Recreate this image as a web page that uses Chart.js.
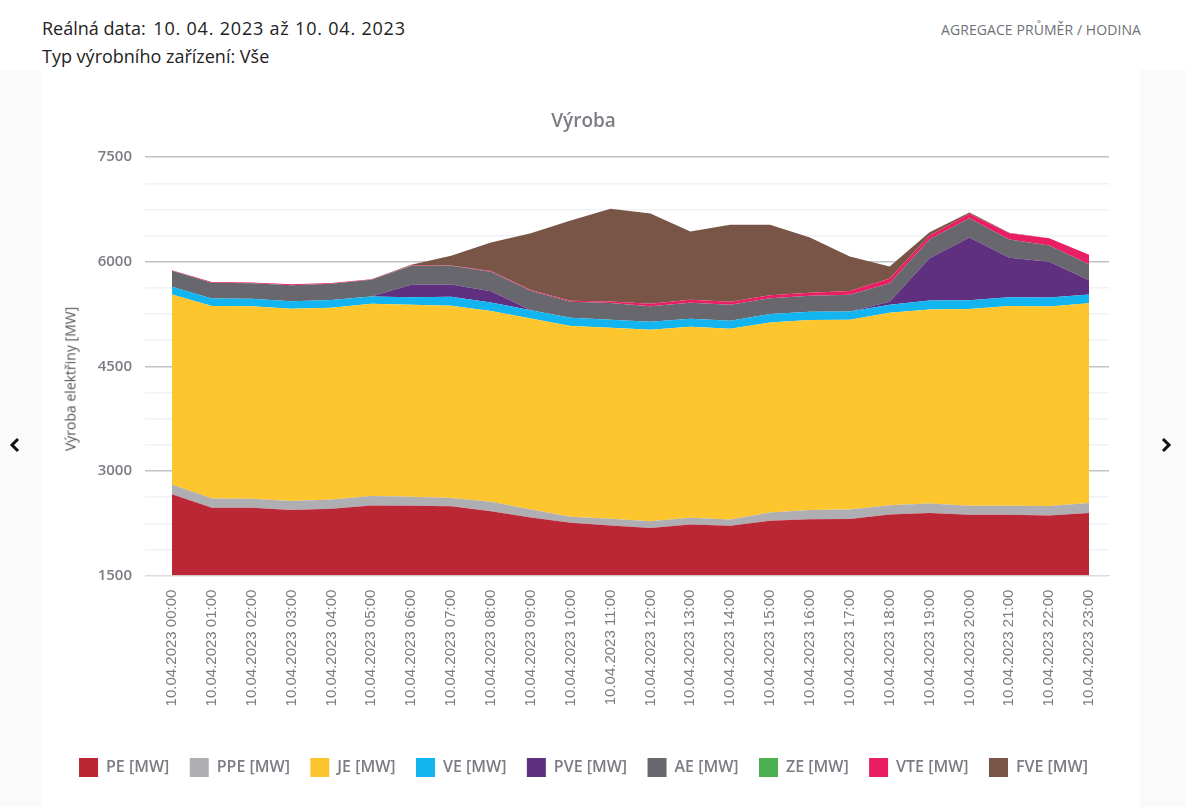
<!DOCTYPE html>
<html lang="cs">
<head>
<meta charset="utf-8">
<title>Výroba</title>
<script src="https://cdn.jsdelivr.net/npm/chart.js@4"></script>
<style>
  html, body { margin: 0; padding: 0; background: #fff; overflow: hidden; }
  body { width: 1186px; height: 807px; position: relative; font-family: "Open Sans", sans-serif; }
  .info { position: absolute; left: 42px; color: #222; font-size: 18px; line-height: 28px; white-space: nowrap; }
  .info span { letter-spacing: 0.8px; margin-left: 3px; }
  .agg { position: absolute; right: 45px; top: 20px; color: #6f6f76; font-size: 14px; line-height: 20px; letter-spacing: 0.08px; }
  .side { position: absolute; top: 70px; height: 737px; background: #fafafa; }
  .arrow { position: absolute; top: 437px; }
  #wrap { position: absolute; left: 42px; top: 70px; width: 1098px; height: 737px; }
  #ytitle { position: absolute; left: 70px; top: 379px; color: #55555c; font-size: 14px; white-space: nowrap; transform: translate(-50%, -50%) rotate(-90deg); }
</style>
</head>
<body>
<div class="info" style="top:14px">Reálná data: <span>10. 04. 2023 až 10. 04. 2023</span></div>
<div class="info" style="top:42px">Typ výrobního zařízení: Vše</div>
<div class="agg">AGREGACE PRŮMĚR / HODINA</div>
<div class="side" style="left:0;width:42px"></div>
<div class="side" style="left:1140px;width:46px"></div>
<svg class="arrow" style="left:9px" width="12" height="16" viewBox="0 0 12 16"><path d="M9 2 L3 8 L9 14" fill="none" stroke="#111" stroke-width="3"/></svg>
<svg class="arrow" style="left:1160px" width="12" height="16" viewBox="0 0 12 16"><path d="M3 2 L9 8 L3 14" fill="none" stroke="#111" stroke-width="3"/></svg>
<div id="wrap"><canvas id="vyroba"></canvas></div>
<div id="ytitle">Výroba elektřiny [MW]</div>
<script>
const hours = [
  '10.04.2023 00:00', '10.04.2023 01:00', '10.04.2023 02:00', '10.04.2023 03:00',
  '10.04.2023 04:00', '10.04.2023 05:00', '10.04.2023 06:00', '10.04.2023 07:00',
  '10.04.2023 08:00', '10.04.2023 09:00', '10.04.2023 10:00', '10.04.2023 11:00',
  '10.04.2023 12:00', '10.04.2023 13:00', '10.04.2023 14:00', '10.04.2023 15:00',
  '10.04.2023 16:00', '10.04.2023 17:00', '10.04.2023 18:00', '10.04.2023 19:00',
  '10.04.2023 20:00', '10.04.2023 21:00', '10.04.2023 22:00', '10.04.2023 23:00',
];
const pe  = [2667, 2471, 2471, 2442, 2457, 2505, 2500, 2495, 2424, 2333, 2256, 2219, 2184, 2233, 2213, 2285, 2309, 2313, 2376, 2399, 2371, 2371, 2362, 2399];
const ppe = [139, 135, 132, 129, 135, 137, 129, 119, 133, 115, 86, 97, 96, 95, 92, 120, 133, 135, 133, 135, 129, 129, 137, 143];
const je  = [2725, 2758, 2757, 2755, 2749, 2755, 2755, 2755, 2735, 2739, 2735, 2738, 2745, 2741, 2735, 2725, 2721, 2721, 2760, 2782, 2821, 2864, 2860, 2864];
const ve  = [110, 110, 110, 109, 109, 105, 105, 129, 125, 119, 120, 115, 115, 115, 115, 119, 120, 119, 115, 129, 125, 125, 129, 125];
const pve = [0, 0, 0, 0, 0, 0, 182, 176, 158, 0, 0, 0, 0, 0, 0, 0, 0, 0, 43, 606, 902, 569, 511, 205];
const ae  = [229, 225, 223, 229, 235, 239, 266, 268, 282, 278, 229, 238, 223, 229, 229, 229, 229, 239, 266, 272, 276, 262, 233, 229];
const ze  = [0, 0, 0, 0, 0, 0, 0, 0, 0, 0, 0, 0, 0, 0, 0, 0, 0, 0, 0, 0, 0, 0, 0, 0];
const vte = [9, 9, 10, 14, 9, 9, 10, 4, 9, 9, 14, 24, 34, 43, 43, 43, 43, 52, 67, 53, 63, 90, 105, 135];
const fve = [0, 0, 0, 0, 0, 0, 10, 139, 411, 816, 1150, 1327, 1293, 978, 1103, 1008, 792, 497, 172, 47, 19, 6, 0, 0];

const SERIES = [
  ['PE [MW]', pe, '#bc2736'],
  ['PPE [MW]', ppe, '#aeaeb3'],
  ['JE [MW]', je, '#fdc62e'],
  ['VE [MW]', ve, '#12b5ef'],
  ['PVE [MW]', pve, '#5f2f80'],
  ['AE [MW]', ae, '#68676d'],
  ['ZE [MW]', ze, '#4caf50'],
  ['VTE [MW]', vte, '#ea1f63'],
  ['FVE [MW]', fve, '#795548'],
];
const GRAY = '#7c7c84';
const FONT = '"Open Sans", sans-serif';
const isMajor = (v) => v % 1500 === 0;

function gridColor(ctx) {
  const v = ctx.tick.value;
  if (v === 1500) return '#dcdcdf';
  return isMajor(v) ? '#c2c2c8' : '#f2f2f6';
}

new Chart(document.getElementById('vyroba'), {
  type: 'line',
  data: {
    labels: hours,
    datasets: SERIES.map(([label, data, color], i) => ({
      label, data,
      borderColor: color, backgroundColor: color,
      borderWidth: 0, pointRadius: 0, tension: 0,
      fill: i === 0 ? 'start' : '-1',
    })),
  },
  options: {
    responsive: true, maintainAspectRatio: false, animation: false,
    layout: { padding: { left: 16, right: 31, top: 40, bottom: 20 } },
    plugins: {
      title: {
        display: true, text: 'Výroba', color: GRAY, padding: { top: 0, bottom: 24.3 },
        font: { family: FONT, size: 19, weight: '600' },
      },
      legend: {
        position: 'bottom',
        labels: {
          color: GRAY, boxWidth: 19, boxHeight: 19, padding: 20.4,
          font: { family: FONT, size: 16, weight: '600' },
        },
      },
      tooltip: { enabled: false },
    },
    scales: {
      x: {
        stacked: true, offset: true,
        grid: { display: false },
        border: { color: '#dcdcdf' },
        ticks: {
          color: GRAY, minRotation: 90, maxRotation: 90, padding: 6, autoSkip: false,
          font: { family: '"Liberation Sans", sans-serif', size: 15 },
        },
        afterFit: (scale) => { scale.height = 162; },
      },
      y: {
        stacked: true, min: 1500, max: 7500,
        border: { display: false },
        grid: { color: gridColor, tickColor: gridColor, tickLength: 7, lineWidth: 1.5 },
        ticks: {
          stepSize: 375, color: GRAY, padding: 13,
          font: { family: FONT, size: 15, weight: '600' },
          callback: (v) => (isMajor(v) ? String(v) : ''),
        },
        afterFit: (scale) => { scale.width = 94; },
      },
    },
  },
});
</script>
</body>
</html>
